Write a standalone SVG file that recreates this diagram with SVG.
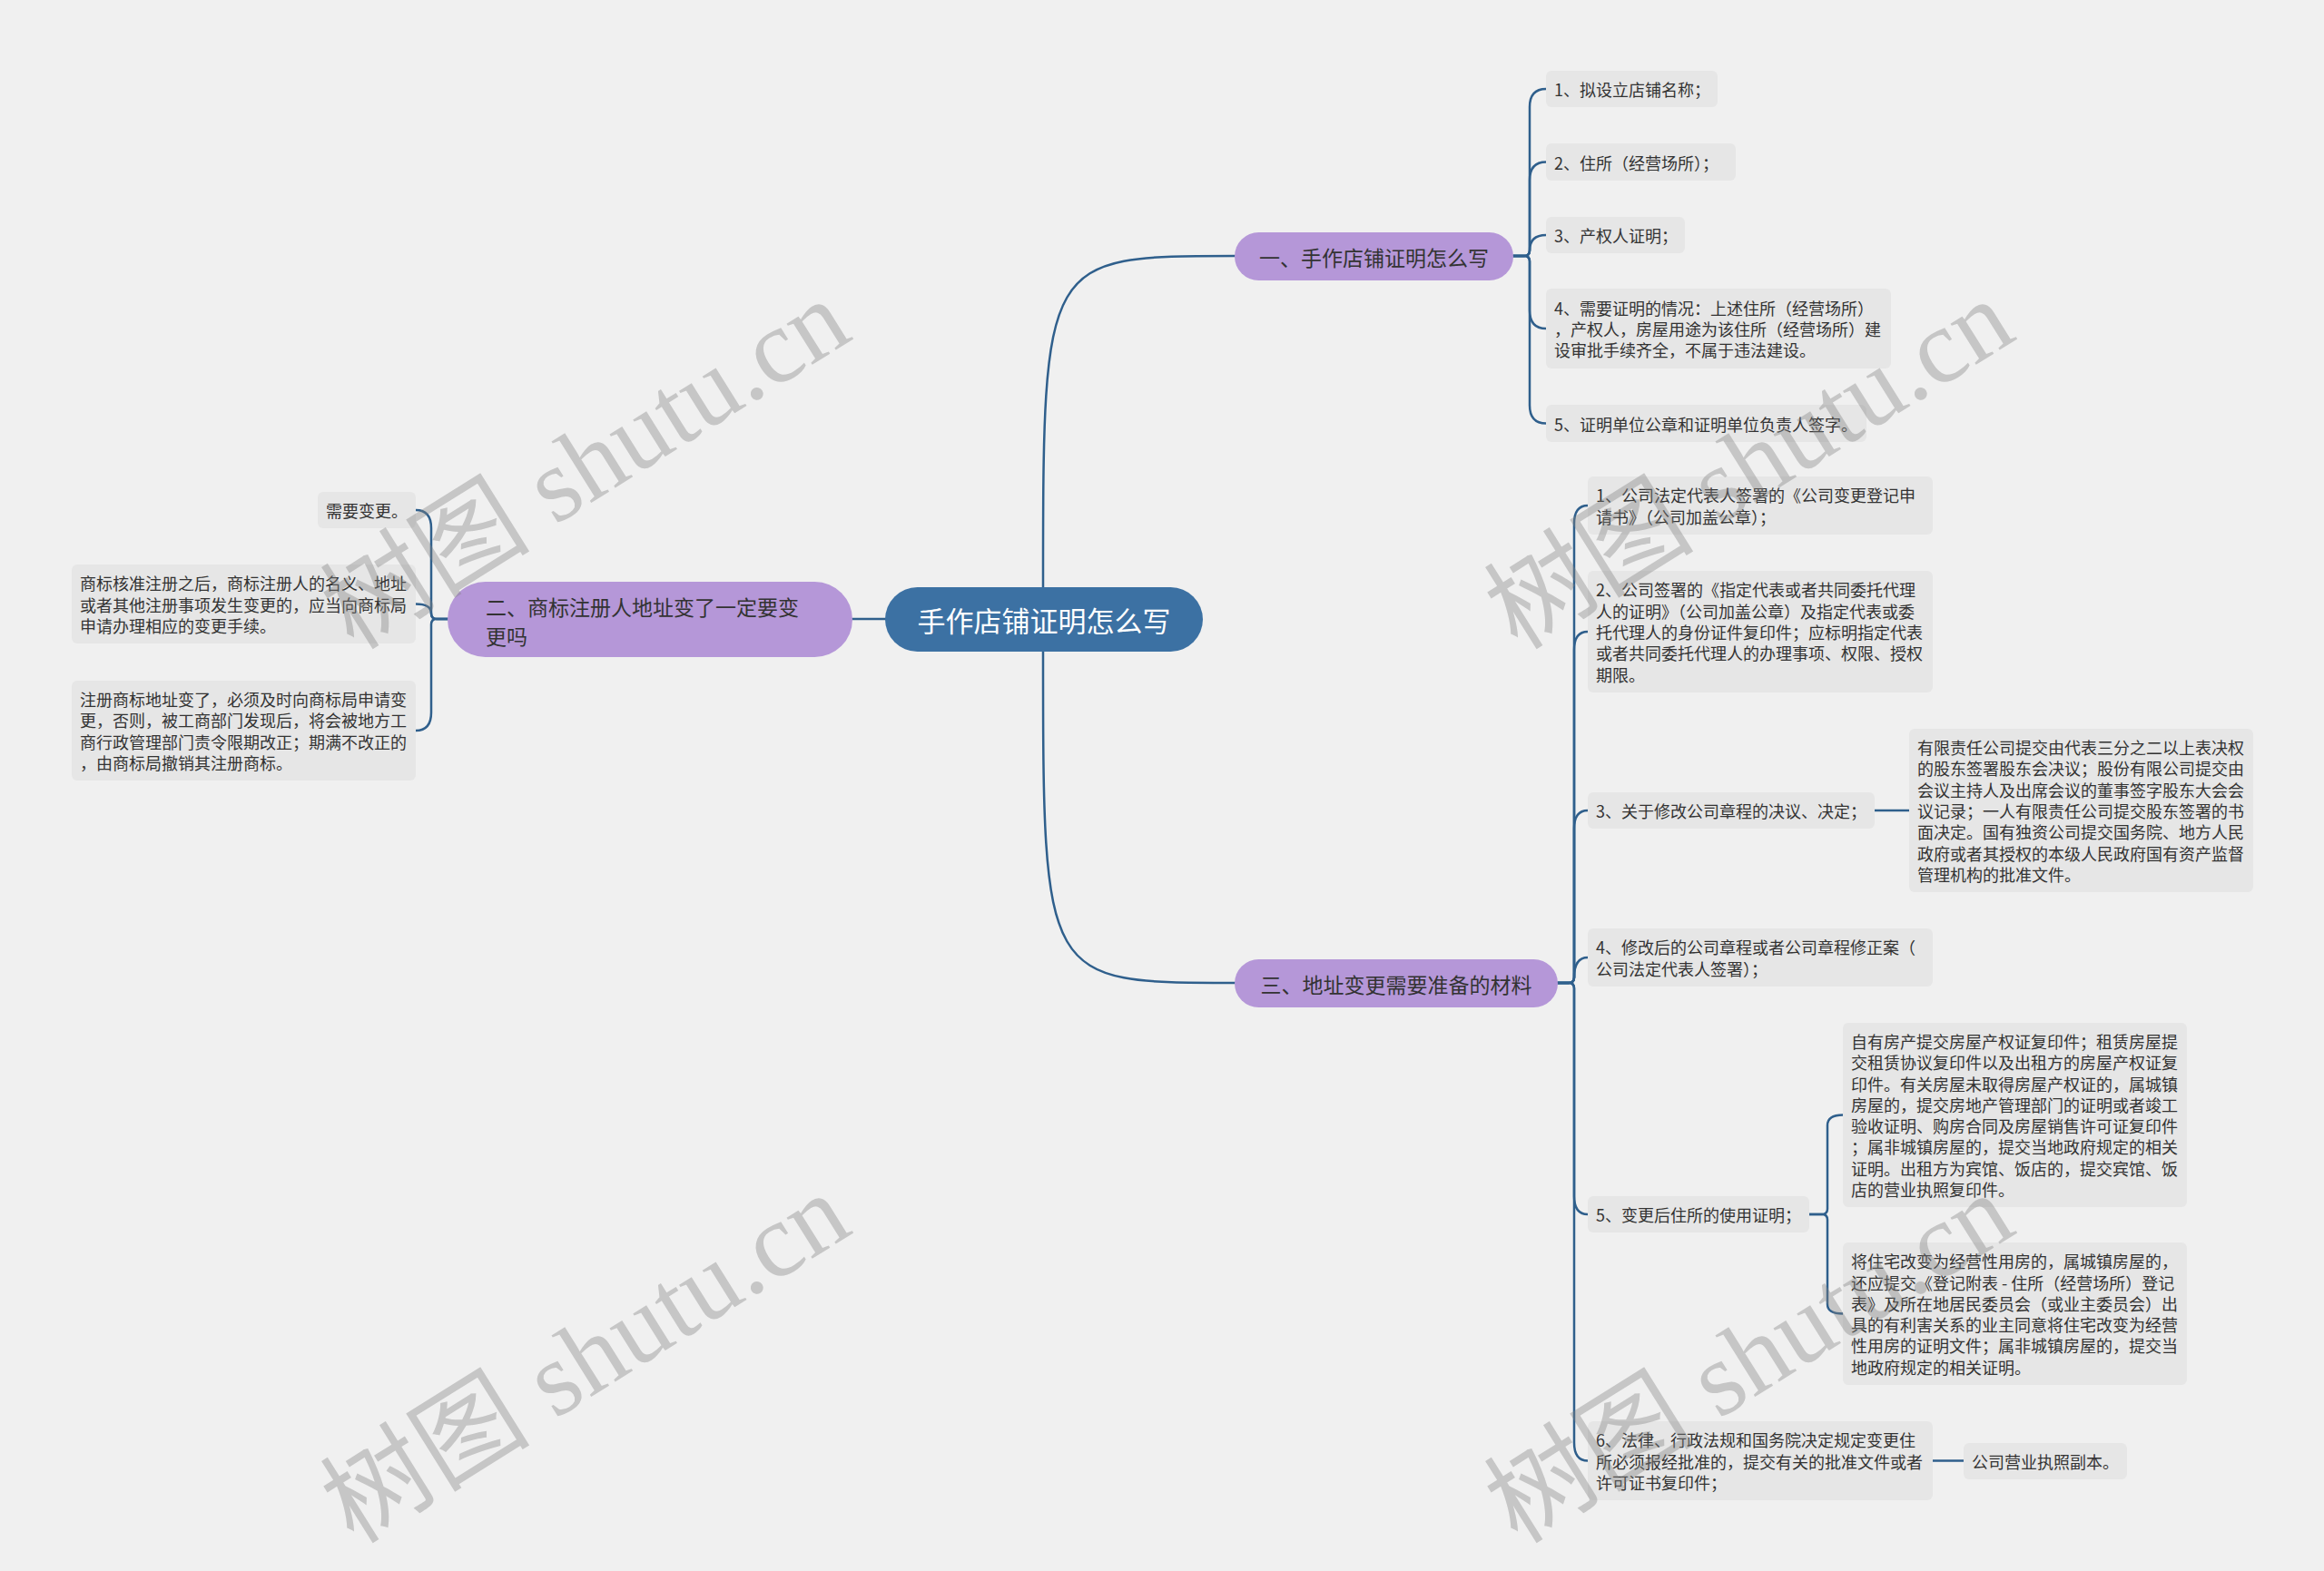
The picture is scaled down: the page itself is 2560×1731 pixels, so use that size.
<svg xmlns="http://www.w3.org/2000/svg" width="2560" height="1731" viewBox="0 0 2560 1731">
<style>
.bg{fill:#f0f0f0}
.leaf rect{fill:#e6e6e6}
.leaf text{font-family:"Noto Sans CJK SC","Microsoft YaHei",sans-serif;font-size:18px;fill:#333;dominant-baseline:central}
.pill rect{fill:#b597d8}
.pill text{font-family:"Noto Sans CJK SC",sans-serif;font-size:23px;fill:#333;dominant-baseline:central}
.root rect{fill:#3c71a3}
.root text{font-family:"Noto Sans CJK SC",sans-serif;font-size:31px;fill:#fff;dominant-baseline:central;text-anchor:middle}
.conn path{fill:none;stroke:#2f5f8c;stroke-width:2.5;stroke-linecap:round}
.wm{font-family:"Liberation Serif","Noto Sans CJK SC",serif;font-size:116px;fill:#808080;fill-opacity:0.38;text-anchor:middle;dominant-baseline:central}
</style>
<rect class="bg" x="0" y="0" width="2560" height="1731"/>
<g id="connectors" class="conn">
<path d="M 1149 648 C 1149 282 1149 282 1360 282"/>
<path d="M 1149 717 C 1149 1083 1149 1083 1360 1083"/>
<path d="M 975 682 H 939"/>
<path d="M 1667 282 H 1679 Q 1685 282 1685 276 V 118 Q 1685 98 1703 98"/>
<path d="M 1667 282 H 1679 Q 1685 282 1685 276 V 198.5 Q 1685 178.5 1703 178.5"/>
<path d="M 1667 282 H 1679 Q 1685 282 1685 276 Q 1685 259 1703 259"/>
<path d="M 1667 282 H 1679 Q 1685 282 1685 288 V 342 Q 1685 362 1703 362"/>
<path d="M 1667 282 H 1679 Q 1685 282 1685 288 V 446.5 Q 1685 466.5 1703 466.5"/>
<path d="M 493 682 H 481 Q 475 682 475 676 V 582 Q 475 562 458 562"/>
<path d="M 493 682 H 481 Q 475 682 475 676 Q 475 665.5 458 665.5"/>
<path d="M 493 682 H 481 Q 475 682 475 688 V 785 Q 475 805 458 805"/>
<path d="M 1716 1083 H 1728 Q 1734 1083 1734 1077 V 577 Q 1734 557 1749 557"/>
<path d="M 1716 1083 H 1728 Q 1734 1083 1734 1077 V 716 Q 1734 696 1749 696"/>
<path d="M 1716 1083 H 1728 Q 1734 1083 1734 1077 V 913 Q 1734 893 1749 893"/>
<path d="M 1716 1083 H 1728 Q 1734 1083 1734 1077 Q 1734 1055 1749 1055"/>
<path d="M 1716 1083 H 1728 Q 1734 1083 1734 1089 V 1318 Q 1734 1338 1749 1338"/>
<path d="M 1716 1083 H 1728 Q 1734 1083 1734 1089 V 1589.5 Q 1734 1609.5 1749 1609.5"/>
<path d="M 2065 893 H 2103"/>
<path d="M 1993 1338 H 2007 Q 2013 1338 2013 1332 V 1240 Q 2013 1228.5 2030 1228.5"/>
<path d="M 1993 1338 H 2007 Q 2013 1338 2013 1344 V 1437 Q 2013 1447.5 2030 1447.5"/>
<path d="M 2129 1609.5 H 2163"/>
</g>
<g id="root" class="root"><rect x="975" y="647" width="350" height="71" rx="35.5"/><text x="1150" y="682.5">手作店铺证明怎么写</text></g>
<g id="b1" class="pill"><rect x="1360" y="256" width="307" height="53" rx="26.5"/><text x="1513.5" y="282.5" text-anchor="middle">一、手作店铺证明怎么写</text></g>
<g id="b2" class="pill"><rect x="493" y="641" width="446" height="83" rx="41.5"/><text x="535" y="668">二、商标注册人地址变了一定要变</text><text x="535" y="700">更吗</text></g>
<g id="b3" class="pill"><rect x="1360" y="1057" width="356" height="53" rx="26.5"/><text x="1538" y="1083.5" text-anchor="middle">三、地址变更需要准备的材料</text></g>
<g id="b1l1" class="leaf"><rect x="1703" y="78" width="189" height="40" rx="6"/><text x="1712" y="98">1、拟设立店铺名称；</text></g>
<g id="b1l2" class="leaf"><rect x="1703" y="158" width="209" height="41" rx="6"/><text x="1712" y="178.5">2、住所（经营场所）；</text></g>
<g id="b1l3" class="leaf"><rect x="1703" y="239" width="153" height="40" rx="6"/><text x="1712" y="259">3、产权人证明；</text></g>
<g id="b1l4" class="leaf"><rect x="1703" y="318" width="380" height="88" rx="6"/><text x="1712" y="338.7">4、需要证明的情况：上述住所（经营场所）</text><text x="1712" y="362">，产权人，房屋用途为该住所（经营场所）建</text><text x="1712" y="385.3">设审批手续齐全，不属于违法建设。</text></g>
<g id="b1l5" class="leaf"><rect x="1703" y="446" width="353" height="41" rx="6"/><text x="1712" y="466.5">5、证明单位公章和证明单位负责人签字。</text></g>
<g id="b2l1" class="leaf"><rect x="350" y="542" width="108" height="40" rx="6"/><text x="359" y="562">需要变更。</text></g>
<g id="b2l2" class="leaf"><rect x="79" y="622" width="379" height="87" rx="6"/><text x="88" y="642.2">商标核准注册之后，商标注册人的名义、地址</text><text x="88" y="665.5">或者其他注册事项发生变更的，应当向商标局</text><text x="88" y="688.8">申请办理相应的变更手续。</text></g>
<g id="b2l3" class="leaf"><rect x="79" y="750" width="379" height="110" rx="6"/><text x="88" y="770">注册商标地址变了，必须及时向商标局申请变</text><text x="88" y="793.3">更，否则，被工商部门发现后，将会被地方工</text><text x="88" y="816.7">商行政管理部门责令限期改正；期满不改正的</text><text x="88" y="840">，由商标局撤销其注册商标。</text></g>
<g id="b3l1" class="leaf"><rect x="1749" y="525" width="380" height="64" rx="6"/><text x="1758" y="545.3">1、公司法定代表人签署的《公司变更登记申</text><text x="1758" y="568.7">请书》（公司加盖公章）；</text></g>
<g id="b3l2" class="leaf"><rect x="1749" y="629" width="380" height="134" rx="6"/><text x="1758" y="649.4">2、公司签署的《指定代表或者共同委托代理</text><text x="1758" y="672.7">人的证明》（公司加盖公章）及指定代表或委</text><text x="1758" y="696">托代理人的身份证件复印件；应标明指定代表</text><text x="1758" y="719.3">或者共同委托代理人的办理事项、权限、授权</text><text x="1758" y="742.6">期限。</text></g>
<g id="b3l3" class="leaf"><rect x="1749" y="873" width="316" height="40" rx="6"/><text x="1758" y="893">3、关于修改公司章程的决议、决定；</text></g>
<g id="b3l3d" class="leaf"><rect x="2103" y="803" width="379" height="180" rx="6"/><text x="2112" y="823.1">有限责任公司提交由代表三分之二以上表决权</text><text x="2112" y="846.4">的股东签署股东会决议；股份有限公司提交由</text><text x="2112" y="869.7">会议主持人及出席会议的董事签字股东大会会</text><text x="2112" y="893">议记录；一人有限责任公司提交股东签署的书</text><text x="2112" y="916.3">面决定。国有独资公司提交国务院、地方人民</text><text x="2112" y="939.6">政府或者其授权的本级人民政府国有资产监督</text><text x="2112" y="962.9">管理机构的批准文件。</text></g>
<g id="b3l4" class="leaf"><rect x="1749" y="1023" width="380" height="64" rx="6"/><text x="1758" y="1043.3">4、修改后的公司章程或者公司章程修正案（</text><text x="1758" y="1066.7">公司法定代表人签署）；</text></g>
<g id="b3l5" class="leaf"><rect x="1749" y="1318" width="244" height="40" rx="6"/><text x="1758" y="1338">5、变更后住所的使用证明；</text></g>
<g id="b3l5a" class="leaf"><rect x="2030" y="1127" width="379" height="203" rx="6"/><text x="2039" y="1146.9">自有房产提交房屋产权证复印件；租赁房屋提</text><text x="2039" y="1170.2">交租赁协议复印件以及出租方的房屋产权证复</text><text x="2039" y="1193.5">印件。有关房屋未取得房屋产权证的，属城镇</text><text x="2039" y="1216.8">房屋的，提交房地产管理部门的证明或者竣工</text><text x="2039" y="1240.1">验收证明、购房合同及房屋销售许可证复印件</text><text x="2039" y="1263.4">；属非城镇房屋的，提交当地政府规定的相关</text><text x="2039" y="1286.7">证明。出租方为宾馆、饭店的，提交宾馆、饭</text><text x="2039" y="1310">店的营业执照复印件。</text></g>
<g id="b3l5b" class="leaf"><rect x="2030" y="1369" width="379" height="157" rx="6"/><text x="2039" y="1389.2">将住宅改变为经营性用房的，属城镇房屋的，</text><text x="2039" y="1412.5">还应提交《登记附表 - 住所（经营场所）登记</text><text x="2039" y="1435.8">表》及所在地居民委员会（或业主委员会）出</text><text x="2039" y="1459.1">具的有利害关系的业主同意将住宅改变为经营</text><text x="2039" y="1482.4">性用房的证明文件；属非城镇房屋的，提交当</text><text x="2039" y="1505.7">地政府规定的相关证明。</text></g>
<g id="b3l6" class="leaf"><rect x="1749" y="1566" width="380" height="87" rx="6"/><text x="1758" y="1586.2">6、法律、行政法规和国务院决定规定变更住</text><text x="1758" y="1609.5">所必须报经批准的，提交有关的批准文件或者</text><text x="1758" y="1632.8">许可证书复印件；</text></g>
<g id="b3l6a" class="leaf"><rect x="2163" y="1590" width="180" height="40" rx="6"/><text x="2172" y="1610">公司营业执照副本。</text></g>
<g id="watermarks">
<text class="wm" x="645" y="512" transform="rotate(-32 645 512)">树图 shutu.cn</text>
<text class="wm" x="1927" y="512" transform="rotate(-32 1927 512)">树图 shutu.cn</text>
<text class="wm" x="645" y="1497" transform="rotate(-32 645 1497)">树图 shutu.cn</text>
<text class="wm" x="1927" y="1497" transform="rotate(-32 1927 1497)">树图 shutu.cn</text>
</g>
</svg>
